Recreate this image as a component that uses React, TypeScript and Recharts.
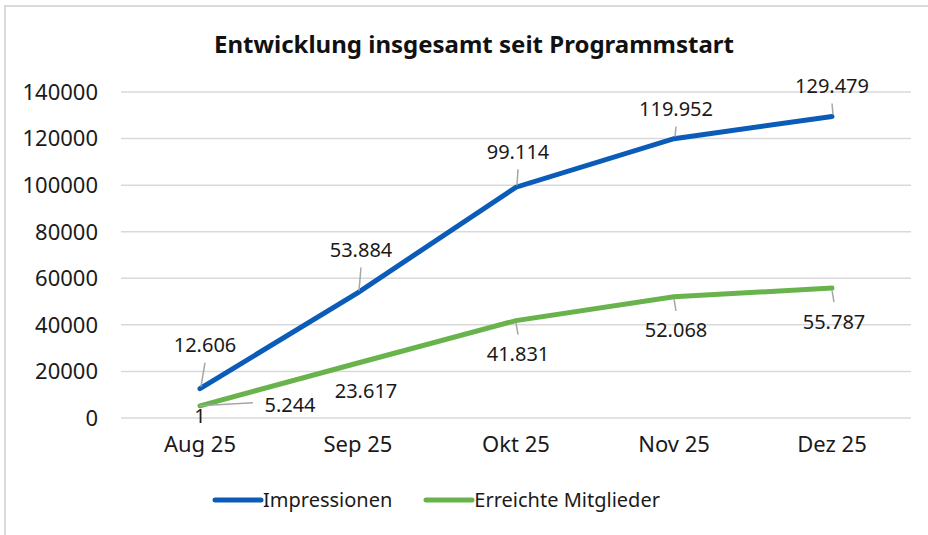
import React from 'react';
import { LineChart, Line, XAxis, YAxis, CartesianGrid, Legend, Customized } from 'recharts';

const months = ['Aug 25', 'Sep 25', 'Okt 25', 'Nov 25', 'Dez 25'];
const impressionen = [12606, 53884, 99114, 119952, 129479];
const mitglieder = [5244, 23617, 41831, 52068, 55787];
const yTicks = [0, 20000, 40000, 60000, 80000, 100000, 120000, 140000];
const title = 'Entwicklung insgesamt seit Programmstart';
const seriesNames = ['Impressionen', 'Erreichte Mitglieder'];
const strayLabel = '1';

// label placement (offset of label centre from point), kept apart from data
const impOffsets = [[5, -44], [3, -43], [2, -36], [2, -30], [0, -31]];
const mitOffsets = [[90, -1], [8, 27], [2, 33], [2, 33], [2, 33]];

const BLUE = '#0A5CB8';
const GREEN = '#68B34C';
const FONT = "'Noto Sans', sans-serif";
const TEXT = '#1a1a1a';
const LEADER = '#a6a6a6';

const data = months.map((m, i) => ({ month: m, imp: impressionen[i], mit: mitglieder[i] }));

const fmt = (v: number) => {
  const s = String(Math.round(v));
  return s.replace(/\B(?=(\d{3})+(?!\d))/g, '.');
};

const makeLabel = (offsets: number[][], below: boolean, extra: boolean) => (props: any) => {
  const { x, y, index, value } = props;
  if (x == null || y == null) return null;
  const [dx, dy] = offsets[index];
  const cx = x + dx;
  const cy = y + dy;
  let leader: React.ReactNode = null;
  if (Math.abs(dx) > 30) {
    leader = <line x1={x} y1={y} x2={cx - 37} y2={cy - 2} stroke={LEADER} strokeWidth={1.5} />;
  } else if (below) {
    const ey = cy - 19;
    if (ey - y > 10) leader = <line x1={x} y1={y + 2} x2={cx} y2={ey} stroke={LEADER} strokeWidth={1.5} />;
  } else {
    const ey = cy + 18;
    if (y - ey > 5) leader = <line x1={x + 1} y1={y - 2} x2={cx} y2={ey} stroke={LEADER} strokeWidth={1.5} />;
  }
  return (
    <g>
      {leader}
      <text x={cx} y={cy} textAnchor="middle" dominantBaseline="central" fontFamily={FONT} fontSize={20} fill={TEXT}>
        {fmt(value)}
      </text>
      {extra && index === 0 ? (
        <text x={x} y={y + 10} textAnchor="middle" dominantBaseline="central" fontFamily={FONT} fontSize={20} fill={TEXT}>
          {strayLabel}
        </text>
      ) : null}
    </g>
  );
};

const Title = () => (
  <text x={474} y={43} textAnchor="middle" dominantBaseline="central" fontFamily={FONT} fontWeight={700} fontSize={24} fill="#111">
    {title}
  </text>
);

const LegendContent = () => (
  <div style={{ display: 'flex', alignItems: 'center', fontFamily: FONT, fontSize: 20, color: TEXT }}>
    {[BLUE, GREEN].map((c, i) => (
      <div key={i} style={{ display: 'flex', alignItems: 'center', marginRight: i === 0 ? 30 : 0 }}>
        <svg width={54} height={10}>
          <line x1={4} y1={5} x2={50} y2={5} stroke={c} strokeWidth={5} strokeLinecap="round" />
        </svg>
        <span style={{ marginLeft: -2 }}>{seriesNames[i]}</span>
      </div>
    ))}
  </div>
);

export default function App() {
  return (
    <div style={{ position: 'absolute', left: 0, top: 0, width: 928, height: 535, overflow: 'hidden', background: '#fff' }}>
      <div style={{ position: 'absolute', left: 4, top: 5, width: 960, height: 560, borderTop: '2px solid #d9d9d9', borderLeft: '2px solid #d9d9d9' }} />
      <div style={{ position: 'absolute', left: 0, top: 0 }}>
        <LineChart width={928} height={535} data={data} margin={{ top: 92, right: 17, bottom: 87, left: 0 }}>
          <CartesianGrid vertical={false} stroke="#d9d9d9" strokeWidth={1.5} />
          <XAxis
            dataKey="month"
            axisLine={false}
            tickLine={false}
            tickMargin={12}
            height={30}
            padding={{ left: 79, right: 79 }}
            tick={{ fontFamily: FONT, fontSize: 22, fill: TEXT }}
          />
          <YAxis
            width={121}
            domain={[0, 140000]}
            ticks={yTicks}
            axisLine={false}
            tickLine={false}
            tickMargin={17}
            tick={{ fontFamily: FONT, fontSize: 22, fill: TEXT }}
          />
          <Legend
            verticalAlign="middle"
            content={<LegendContent />}
            wrapperStyle={{ position: 'absolute', top: 486, left: 211, width: 700 }}
          />
          <Line
            type="linear"
            dataKey="imp"
            name={seriesNames[0]}
            stroke={BLUE}
            strokeWidth={5}
            dot={false}
            activeDot={false}
            strokeLinecap="round"
            isAnimationActive={false}
            label={makeLabel(impOffsets, false, false)}
          />
          <Line
            type="linear"
            dataKey="mit"
            name={seriesNames[1]}
            stroke={GREEN}
            strokeWidth={5}
            dot={false}
            activeDot={false}
            strokeLinecap="round"
            isAnimationActive={false}
            label={makeLabel(mitOffsets, true, true)}
          />
          <Customized component={Title} />
        </LineChart>
      </div>
    </div>
  );
}
